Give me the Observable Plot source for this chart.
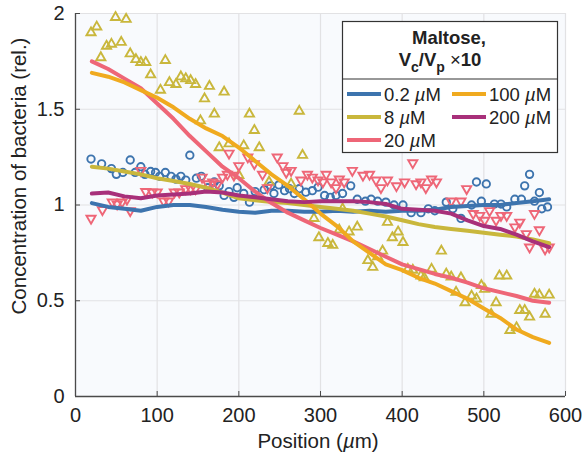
<!DOCTYPE html>
<html><head><meta charset="utf-8">
<script src="https://cdn.jsdelivr.net/npm/d3@7"></script>
<script src="https://cdn.jsdelivr.net/npm/@observablehq/plot@0.6"></script>
<style>body{margin:0;background:#fff;} #chart svg{display:block;}</style>
</head><body><div id="chart"></div>
<script>
// ---- data ----
const xTicks = [0, 100, 200, 300, 400, 500, 600];
const yTicks = [0, 0.5, 1, 1.5, 2];
const seriesNames = ["0.2 µM", "8 µM", "20 µM", "100 µM", "200 µM"];
const seriesColors = ["#3d74ae", "#c9b73c", "#ee6677", "#f0aa1f", "#a8307a"];

const lineX = [20,40,60,80,100,120,140,160,180,200,220,240,260,280,300,320,340,360,380,400,420,440,460,480,500,520,540,560,580];
const line02 = [1.01,0.99,0.98,0.97,0.99,1.0,1.0,0.99,0.975,0.965,0.96,0.97,0.97,0.965,0.965,0.97,0.965,0.97,0.965,0.97,0.97,0.975,0.99,0.995,1.0,1.0,1.01,1.02,1.03];
const line8 = [1.2,1.19,1.175,1.16,1.14,1.125,1.11,1.09,1.065,1.035,1.025,1.015,1.01,1.0,0.99,0.98,0.97,0.955,0.94,0.92,0.9,0.885,0.875,0.865,0.855,0.845,0.835,0.82,0.80];
const line20 = [1.75,1.71,1.66,1.61,1.53,1.45,1.36,1.28,1.2,1.14,1.07,1.01,0.96,0.92,0.88,0.845,0.81,0.77,0.73,0.69,0.665,0.64,0.62,0.595,0.565,0.545,0.525,0.50,0.49];
const line100 = [1.69,1.67,1.64,1.60,1.56,1.51,1.45,1.40,1.36,1.30,1.23,1.16,1.10,1.03,0.955,0.89,0.81,0.75,0.69,0.66,0.62,0.59,0.55,0.51,0.46,0.41,0.35,0.31,0.28];
const line200 = [1.06,1.065,1.045,1.035,1.05,1.055,1.06,1.07,1.065,1.05,1.04,1.03,1.02,1.015,1.02,1.02,1.02,1.015,1.005,0.98,0.975,0.97,0.955,0.92,0.89,0.875,0.845,0.81,0.78];

const circX = [19,32,44,50,58,67,73,80,85,92,98,103,110,117,123,129,135,140,148,154,162,170,176,182,188,194,198,206,213,220,231,239,243,249,256,262,268,274,282,290,297,305,312,319,327,337,345,355,362,370,380,390,401,411,423,432,440,454,462,472,485,491,497,503,513,521,528,538,546,550,556,562,568,571,578];
const circY = [1.24,1.215,1.19,1.16,1.17,1.235,1.17,1.20,1.16,1.175,1.17,1.15,1.17,1.15,1.135,1.15,1.13,1.26,1.14,1.15,1.09,1.12,1.10,1.05,1.07,1.04,1.09,1.06,1.015,1.07,1.08,1.10,1.06,1.105,1.075,1.085,1.06,1.085,1.067,1.075,1.093,1.05,1.04,1.05,1.06,1.10,1.03,1.02,1.03,1.02,1.015,1.0,1.0,0.96,0.96,0.98,0.97,1.015,0.98,0.93,1.0,1.12,1.02,1.11,1.005,1.005,0.99,1.03,1.03,1.10,1.16,1.02,1.065,0.98,0.99];

const triUpX = [19,26,31,38,44,49,56,62,67,74,80,86,92,104,110,115,123,129,135,141,147,153,158,164,170,176,182,188,200,206,213,219,225,237,264,274,278,292,298,309,315,323,327,335,345,358,364,370,376,382,388,395,401,407,413,423,427,436,448,454,460,466,472,477,485,491,497,501,509,515,519,528,532,540,544,550,556,562,568,575,580];
const triUpY = [1.90,1.93,1.77,1.83,1.84,1.98,1.85,1.97,1.79,1.76,1.745,1.745,1.68,1.60,1.755,1.64,1.63,1.67,1.66,1.65,1.63,1.44,1.555,1.62,1.475,1.30,1.59,1.32,1.155,1.31,1.475,1.39,1.30,1.12,1.11,1.49,1.26,0.93,0.83,0.80,0.79,0.87,0.98,0.86,0.885,0.71,0.675,0.73,0.76,0.91,0.83,0.86,0.805,0.665,0.66,0.63,0.62,0.665,0.76,0.64,0.625,0.545,0.62,0.49,0.525,0.51,0.58,0.56,0.43,0.49,0.63,0.63,0.345,0.36,0.45,0.45,0.415,0.535,0.53,0.43,0.53];

const triDnX = [19,33,45,51,57,63,67,80,86,94,100,108,114,121,127,135,141,147,155,162,168,174,180,186,188,194,200,211,219,229,235,247,254,258,264,276,284,290,297,303,307,313,319,323,329,339,352,360,368,374,382,393,403,413,417,423,429,436,442,460,472,479,487,495,501,507,515,521,528,538,544,552,556,562,568,575,580];
const triDnY = [0.93,0.975,1.015,1.005,1.015,1.03,0.97,1.18,1.07,1.067,1.067,1.02,1.02,1.067,1.067,1.085,1.085,1.085,1.145,1.11,1.12,1.11,1.145,1.16,1.27,1.155,1.205,1.25,1.215,1.16,1.09,1.25,1.205,1.17,1.18,1.13,1.16,1.145,1.13,1.12,1.16,1.12,1.09,1.135,1.12,1.18,1.155,1.16,1.13,1.09,1.13,1.10,1.12,1.22,1.11,1.12,1.09,1.135,1.12,1.02,1.02,1.085,0.955,0.945,0.92,0.97,0.92,0.945,0.945,0.885,0.91,0.85,0.78,0.955,0.87,0.77,0.78];

// ---- tables ----
const lineSeries = [line02, line8, line20, line100, line200];
const lineData = [];
lineSeries.forEach((ys, i) => ys.forEach((y, j) => lineData.push({x: lineX[j], y, s: seriesNames[i]})));
const circles = circX.map((x, i) => ({x, y: circY[i]}));
const trisUp = triUpX.map((x, i) => ({x, y: triUpY[i]}));
const trisDn = triDnX.map((x, i) => ({x, y: triDnY[i]}));

const sqrt3 = Math.sqrt(3);
const triangleDown = {
  draw(context, size) {
    const s = Math.sqrt(size * 0.6824), t = s * 0.5, u = s * sqrt3 / 2;
    context.moveTo(0, s);
    context.lineTo(u, -t);
    context.lineTo(-u, -t);
    context.closePath();
  }
};
const triangleUp = {
  draw(context, size) {
    const s = Math.sqrt(size * 0.6824), t = s * 0.5, u = s * sqrt3 / 2;
    context.moveTo(0, -s);
    context.lineTo(u, t);
    context.lineTo(-u, t);
    context.closePath();
  }
};

const FONT = "'Liberation Sans', Arial, Helvetica, sans-serif";

const chart = Plot.plot({
  width: 584, height: 458,
  marginLeft: 75, marginRight: 19, marginTop: 13, marginBottom: 62,
  style: {fontFamily: FONT, fontSize: "20px", color: "#222", background: "#fff"},
  x: {domain: [0, 600]},
  y: {domain: [0, 2]},
  color: {domain: seriesNames, range: seriesColors},
  marks: [
    Plot.frame({fill: "#f8fafd", stroke: null}),
    Plot.gridX(xTicks, {stroke: "#e2e2e4", strokeOpacity: 1, strokeWidth: 1.2}),
    Plot.gridY(yTicks, {stroke: "#e2e2e4", strokeOpacity: 1, strokeWidth: 1.2}),
    Plot.dot(circles, {x: "x", y: "y", r: 3.7, stroke: seriesColors[0], strokeWidth: 1.9, fill: "none"}),
    Plot.dot(trisUp, {x: "x", y: "y", r: 3.6, symbol: triangleUp, stroke: seriesColors[1], strokeWidth: 1.9, fill: "none"}),
    Plot.dot(trisDn, {x: "x", y: "y", r: 3.6, symbol: triangleDown, stroke: seriesColors[2], strokeWidth: 1.9, fill: "none"}),
    Plot.line(lineData, {x: "x", y: "y", z: "s", stroke: "s", strokeWidth: 4, strokeLinejoin: "round"}),
    Plot.ruleX([0], {stroke: "#4a4a4a", strokeWidth: 1.3}),
    Plot.ruleY([0], {stroke: "#4a4a4a", strokeWidth: 1.3}),
    Plot.axisX({ticks: xTicks, tickFormat: d => String(d), tickSize: -5, tickPadding: 16, stroke: "#4a4a4a", label: null}),
    Plot.axisY({ticks: yTicks, tickFormat: d => String(d), tickSize: -5, tickPadding: 16, stroke: "#4a4a4a", label: null})
  ]
});
document.getElementById("chart").appendChild(chart);

// ---- axis titles & legend ----
const svg = d3.select(chart);
const ink = "#222";
const xl = svg.append("text").attr("x", 318).attr("y", 448).attr("text-anchor", "middle")
  .attr("font-family", FONT).attr("font-size", 20.5).attr("fill", ink);
xl.append("tspan").text("Position (");
xl.append("tspan").attr("font-style", "italic").text("µ");
xl.append("tspan").text("m)");

svg.append("text").attr("transform", "translate(26,176) rotate(-90)").attr("text-anchor", "middle")
  .attr("font-family", FONT).attr("font-size", 20.5).attr("fill", ink)
  .text("Concentration of bacteria (rel.)");

const lg = svg.append("g").attr("font-family", FONT).attr("fill", ink);
lg.append("rect").attr("x", 342.5).attr("y", 21.5).attr("width", 215).attr("height", 131)
  .attr("fill", "#fff").attr("stroke", "#333").attr("stroke-width", 1.2);
lg.append("text").attr("x", 449).attr("y", 44).attr("text-anchor", "middle")
  .attr("font-weight", "bold").attr("font-size", 18.5).text("Maltose,");
const t2 = lg.append("text").attr("x", 440).attr("y", 66).attr("text-anchor", "middle")
  .attr("font-weight", "bold").attr("font-size", 18.5);
t2.append("tspan").text("V");
t2.append("tspan").attr("font-size", 14).attr("dy", 6).text("c");
t2.append("tspan").attr("dy", -6).text("/V");
t2.append("tspan").attr("font-size", 14).attr("dy", 6).text("p");
t2.append("tspan").attr("dy", -6).attr("font-weight", "normal").text(" ×");
t2.append("tspan").text("10");
lg.append("line").attr("x1", 342.5).attr("x2", 557.5).attr("y1", 79).attr("y2", 79)
  .attr("stroke", "#333").attr("stroke-width", 1.2);

seriesNames.forEach((name, i) => {
  const col = i < 3 ? 0 : 1, row = i < 3 ? i : i - 3;
  const x0 = col === 0 ? 347 : 452, cy = 94 + row * 23;
  lg.append("line").attr("x1", x0).attr("x2", x0 + 34).attr("y1", cy).attr("y2", cy)
    .attr("stroke", seriesColors[i]).attr("stroke-width", 4);
  const [num, unit] = name.split(" ");
  const tx = lg.append("text").attr("x", x0 + 37).attr("y", cy + 6.5).attr("font-size", 18.5)
    .attr("text-anchor", "start");
  tx.append("tspan").text(num + " ");
  tx.append("tspan").attr("font-style", "italic").text(unit.slice(0, 1));
  tx.append("tspan").text(unit.slice(1));
});
</script>
</body></html>
